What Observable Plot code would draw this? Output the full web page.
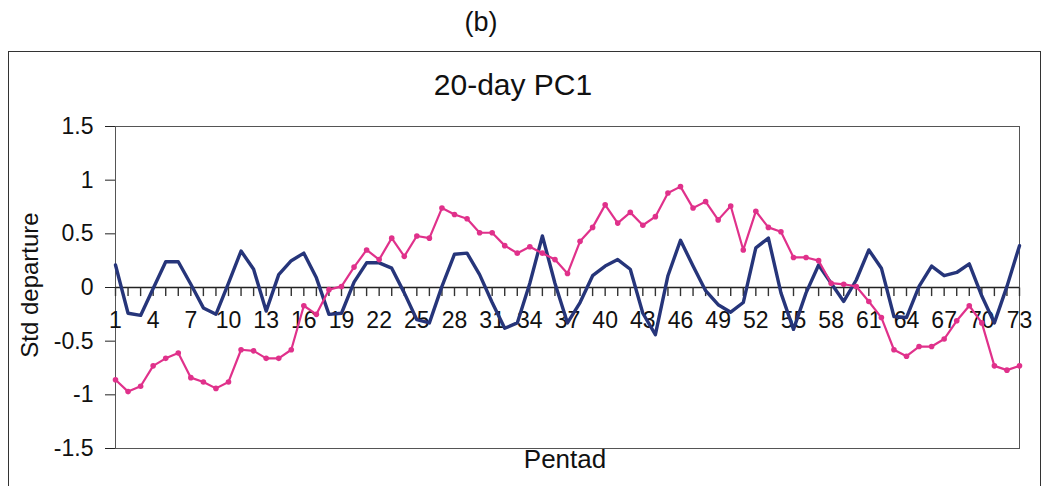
<!DOCTYPE html>
<html>
<head>
<meta charset="utf-8">
<script src="https://cdn.jsdelivr.net/npm/d3@7"></script>
<script src="https://cdn.jsdelivr.net/npm/@observablehq/plot@0.6"></script>
<style>
  html, body { margin: 0; padding: 0; background: #fff; }
  #wrap { position: relative; width: 1043px; height: 486px; overflow: hidden;
          font-family: "Liberation Sans", Arial, sans-serif; color: #111; }
  #fig { position: absolute; left: 0; top: 0; }
  .abs { position: absolute; line-height: 1; white-space: nowrap; }
</style>
</head>
<body>
<div id="wrap">
  <div id="fig"></div>
  <div class="abs" style="left:8px;top:51px;width:1031px;height:470px;border:1.5px solid #333;"></div>
  <div class="abs" id="panel" style="left:481px;top:9px;font-size:27px;transform:translateX(-50%);">(b)</div>
  <div class="abs" id="title" style="left:513px;top:70px;font-size:30px;transform:translateX(-50%);">20-day PC1</div>
  <div class="abs" id="ylab" style="left:30px;top:285px;font-size:24px;transform:translate(-50%,-50%) rotate(-90deg);">Std departure</div>
  <div class="abs" id="xlab" style="left:565px;top:446px;font-size:26px;transform:translateX(-50%);">Pentad</div>
</div>
<script>
// Categories (pentads) and tick labels
const pentads = [1,2,3,4,5,6,7,8,9,10,11,12,13,14,15,16,17,18,19,20,21,22,23,24,25,26,27,28,29,30,31,32,33,34,35,36,37,38,39,40,41,42,43,44,45,46,47,48,49,50,51,52,53,54,55,56,57,58,59,60,61,62,63,64,65,66,67,68,69,70,71,72,73];
const xTickLabels = [1,4,7,10,13,16,19,22,25,28,31,34,37,40,43,46,49,52,55,58,61,64,67,70,73];
const yTicks = [-1.5,-1,-0.5,0,0.5,1,1.5];

// Series values (std departure)
const seriesBlue = [0.21,-0.24,-0.26,-0.01,0.24,0.24,0.03,-0.19,-0.25,0.04,
  0.34,0.17,-0.22,0.12,0.25,0.32,0.09,-0.25,-0.24,0.05,
  0.23,0.23,0.18,-0.05,-0.30,-0.33,0.01,0.31,0.32,0.12,
  -0.14,-0.38,-0.33,0.04,0.48,0.04,-0.33,-0.14,0.11,0.20,
  0.26,0.17,-0.24,-0.44,0.11,0.44,0.20,-0.03,-0.16,-0.23,
  -0.14,0.37,0.46,-0.05,-0.39,-0.05,0.21,0.04,-0.13,0.07,
  0.35,0.18,-0.27,-0.28,0.01,0.20,0.11,0.14,0.22,-0.08,
  -0.33,0.01,0.39];
const seriesPink = [-0.86,-0.97,-0.92,-0.73,-0.66,-0.61,-0.84,-0.88,-0.94,-0.88,
  -0.58,-0.59,-0.66,-0.66,-0.58,-0.17,-0.25,-0.02,0.01,0.19,
  0.35,0.26,0.46,0.29,0.48,0.46,0.74,0.68,0.64,0.51,
  0.51,0.39,0.32,0.38,0.32,0.26,0.13,0.43,0.56,0.77,
  0.60,0.70,0.58,0.66,0.88,0.94,0.74,0.80,0.63,0.76,
  0.35,0.71,0.56,0.52,0.28,0.28,0.25,0.04,0.03,0.01,
  -0.13,-0.28,-0.58,-0.64,-0.55,-0.55,-0.48,-0.31,-0.17,-0.33,
  -0.73,-0.77,-0.73];

const blueData = pentads.map((p, i) => ({pentad: p, value: seriesBlue[i]}));
const pinkData = pentads.map((p, i) => ({pentad: p, value: seriesPink[i]}));

const BLUE = "#26357a";
const PINK = "#e0318b";
const TICK_DEPTH = 0.08; // tick-mark length below the zero axis, in axis units (~8px)

const chart = Plot.plot({
  width: 1043,
  height: 486,
  marginLeft: 115,
  marginRight: 24,
  marginTop: 126,
  marginBottom: 38,
  style: {background: "transparent", fontFamily: "Liberation Sans, Arial, sans-serif", color: "#111", overflow: "visible"},
  x: {domain: [1, 73], axis: null},
  y: {domain: [-1.5, 1.5]},
  marks: [
    Plot.frame({stroke: "#555", strokeWidth: 1}),
    Plot.axisY({ticks: yTicks, tickSize: 10, tickPadding: 12, tickFormat: d => String(d), fontSize: 23, label: null, stroke: "#222"}),
    Plot.ruleY([0], {stroke: "#222", strokeWidth: 1.5}),
    Plot.link(pentads, {x1: d => d, x2: d => d, y1: () => 0, y2: () => -TICK_DEPTH, stroke: "#333", strokeWidth: 1.4}),
    Plot.text(xTickLabels, {x: d => d, y: 0, dy: 33, text: d => String(d), fontSize: 23, fill: "#111"}),
    Plot.line(blueData, {x: "pentad", y: "value", stroke: BLUE, strokeWidth: 3.4}),
    Plot.line(pinkData, {x: "pentad", y: "value", stroke: PINK, strokeWidth: 2.2}),
    Plot.dot(pinkData, {x: "pentad", y: "value", r: 2.8, fill: PINK, stroke: "none"})
  ]
});
document.getElementById("fig").appendChild(chart);
</script>
</body>
</html>
